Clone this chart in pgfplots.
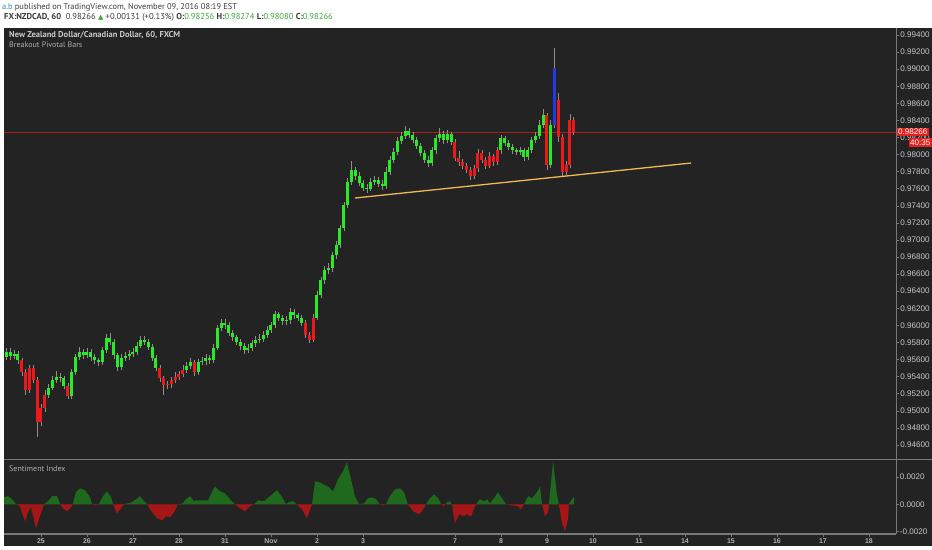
\documentclass[border=0pt]{standalone}
\usepackage{fontspec}
\setmainfont{PT Sans}
\newfontfamily\lib{Liberation Sans}
\newfontfamily\sym{DejaVu Sans}
\usepackage{pgfplots}
\pgfplotsset{compat=1.18}
\usepackage{pgfplotstable}

\definecolor{bg}{RGB}{35,35,35}
\definecolor{cg}{RGB}{40,235,40}
\definecolor{cr}{RGB}{235,25,25}
\definecolor{cb}{RGB}{30,60,230}
\definecolor{wick}{RGB}{150,140,130}
\definecolor{sg}{RGB}{30,105,30}
\definecolor{sr}{RGB}{165,22,22}
\definecolor{trend}{RGB}{238,185,80}
\definecolor{lastp}{RGB}{170,30,30}
\definecolor{lastbox}{RGB}{230,30,30}
\definecolor{lbl}{RGB}{200,200,200}
\definecolor{lbl2}{RGB}{175,175,175}
\definecolor{hdr}{RGB}{60,60,60}
\definecolor{upg}{RGB}{60,170,60}
\definecolor{ablue}{RGB}{50,130,210}
\definecolor{frame}{RGB}{120,120,120}

% 2-hour candles: k = bar index, o h l c, g: 1 green, 0 red, 2 blue
\pgfplotstableread{
k o h l c g
0 0.9560 0.9568 0.9556 0.9563 1
1 0.9563 0.9573 0.9560 0.9569 1
2 0.9569 0.9574 0.9560 0.9564 1
3 0.9564 0.9571 0.9561 0.9567 1
4 0.9567 0.9570 0.9555 0.9559 1
5 0.9559 0.9562 0.9541 0.9545 0
6 0.9545 0.9549 0.9519 0.9524 0
7 0.9524 0.9554 0.9521 0.9550 0
8 0.9550 0.9554 0.9532 0.9536 0
9 0.9536 0.9540 0.9469 0.9487 0
10 0.9487 0.9508 0.9482 0.9503 0
11 0.9503 0.9524 0.9499 0.9519 0
12 0.9519 0.9531 0.9515 0.9527 1
13 0.9527 0.9541 0.9524 0.9536 1
14 0.9536 0.9546 0.9532 0.9540 1
15 0.9540 0.9544 0.9534 0.9538 1
16 0.9538 0.9541 0.9525 0.9529 1
17 0.9529 0.9532 0.9514 0.9517 0
18 0.9517 0.9549 0.9514 0.9545 1
19 0.9545 0.9567 0.9542 0.9563 1
20 0.9563 0.9575 0.9560 0.9569 1
21 0.9569 0.9572 0.9561 0.9565 1
22 0.9565 0.9574 0.9562 0.9569 1
23 0.9569 0.9572 0.9558 0.9563 1
24 0.9563 0.9566 0.9555 0.9559 1
25 0.9559 0.9562 0.9552 0.9557 1
26 0.9557 0.9575 0.9554 0.9571 1
27 0.9571 0.9590 0.9568 0.9585 1
28 0.9585 0.9591 0.9577 0.9581 1
29 0.9581 0.9584 0.9561 0.9565 1
30 0.9565 0.9568 0.9547 0.9551 1
31 0.9551 0.9566 0.9548 0.9562 1
32 0.9562 0.9569 0.9558 0.9564 1
33 0.9564 0.9571 0.9560 0.9567 1
34 0.9567 0.9574 0.9563 0.9569 1
35 0.9569 0.9580 0.9565 0.9576 1
36 0.9576 0.9588 0.9573 0.9583 1
37 0.9583 0.9587 0.9577 0.9581 1
38 0.9581 0.9584 0.9571 0.9575 1
39 0.9575 0.9578 0.9558 0.9562 1
40 0.9562 0.9565 0.9546 0.9550 1
41 0.9550 0.9553 0.9534 0.9538 0
42 0.9538 0.9541 0.9518 0.9530 0
43 0.9530 0.9535 0.9525 0.9531 0
44 0.9531 0.9540 0.9527 0.9536 0
45 0.9536 0.9545 0.9532 0.9540 0
46 0.9540 0.9547 0.9536 0.9543 0
47 0.9543 0.9553 0.9540 0.9548 0
48 0.9548 0.9557 0.9544 0.9552 1
49 0.9552 0.9562 0.9549 0.9557 1
50 0.9557 0.9560 0.9541 0.9545 0
51 0.9545 0.9561 0.9542 0.9557 1
52 0.9557 0.9563 0.9553 0.9558 1
53 0.9558 0.9566 0.9554 0.9562 1
54 0.9562 0.9565 0.9555 0.9559 1
55 0.9559 0.9578 0.9556 0.9574 1
56 0.9574 0.9601 0.9571 0.9597 1
57 0.9597 0.9608 0.9593 0.9603 1
58 0.9603 0.9607 0.9596 0.9600 1
59 0.9600 0.9604 0.9587 0.9591 1
60 0.9591 0.9594 0.9582 0.9586 1
61 0.9586 0.9589 0.9577 0.9581 1
62 0.9581 0.9584 0.9571 0.9576 1
63 0.9576 0.9579 0.9567 0.9571 1
64 0.9571 0.9578 0.9568 0.9574 1
65 0.9574 0.9583 0.9570 0.9579 1
66 0.9579 0.9587 0.9575 0.9583 1
67 0.9583 0.9590 0.9579 0.9584 1
68 0.9584 0.9593 0.9580 0.9589 1
69 0.9589 0.9599 0.9585 0.9595 1
70 0.9595 0.9604 0.9591 0.9600 1
71 0.9600 0.9617 0.9597 0.9613 1
72 0.9613 0.9616 0.9605 0.9609 1
73 0.9609 0.9612 0.9601 0.9605 1
74 0.9605 0.9611 0.9600 0.9606 1
75 0.9606 0.9620 0.9602 0.9616 1
76 0.9616 0.9619 0.9608 0.9612 1
77 0.9612 0.9615 0.9605 0.9609 1
78 0.9609 0.9612 0.9599 0.9603 1
79 0.9603 0.9606 0.9585 0.9589 0
80 0.9589 0.9592 0.9579 0.9583 0
81 0.9583 0.9613 0.9580 0.9609 0
82 0.9609 0.9640 0.9606 0.9636 1
83 0.9636 0.9657 0.9632 0.9653 1
84 0.9653 0.9670 0.9649 0.9665 1
85 0.9665 0.9673 0.9660 0.9667 1
86 0.9667 0.9686 0.9663 0.9682 1
87 0.9682 0.9699 0.9678 0.9694 1
88 0.9694 0.9718 0.9690 0.9714 1
89 0.9714 0.9745 0.9710 0.9741 1
90 0.9741 0.9773 0.9737 0.9768 1
91 0.9768 0.9792 0.9764 0.9782 1
92 0.9782 0.9786 0.9770 0.9775 1
93 0.9775 0.9779 0.9763 0.9767 1
94 0.9767 0.9770 0.9757 0.9761 1
95 0.9761 0.9765 0.9755 0.9760 1
96 0.9760 0.9772 0.9757 0.9768 1
97 0.9768 0.9775 0.9764 0.9770 1
98 0.9770 0.9774 0.9762 0.9766 1
99 0.9766 0.9770 0.9758 0.9763 1
100 0.9763 0.9785 0.9760 0.9780 1
101 0.9780 0.9798 0.9776 0.9794 1
102 0.9794 0.9808 0.9790 0.9803 1
103 0.9803 0.9821 0.9799 0.9816 1
104 0.9816 0.9827 0.9812 0.9822 1
105 0.9822 0.9834 0.9818 0.9828 1
106 0.9828 0.9831 0.9819 0.9823 1
107 0.9823 0.9826 0.9813 0.9817 1
108 0.9817 0.9820 0.9806 0.9810 1
109 0.9810 0.9813 0.9798 0.9802 1
110 0.9802 0.9805 0.9790 0.9794 1
111 0.9794 0.9798 0.9786 0.9790 1
112 0.9790 0.9809 0.9787 0.9805 1
113 0.9805 0.9823 0.9801 0.9819 1
114 0.9819 0.9831 0.9815 0.9824 1
115 0.9824 0.9828 0.9812 0.9817 1
116 0.9817 0.9829 0.9813 0.9824 1
117 0.9824 0.9827 0.9811 0.9815 1
118 0.9815 0.9818 0.9792 0.9796 0
119 0.9796 0.9804 0.9787 0.9791 0
120 0.9791 0.9795 0.9783 0.9787 0
121 0.9787 0.9790 0.9778 0.9782 0
122 0.9782 0.9786 0.9770 0.9775 0
123 0.9775 0.9788 0.9771 0.9784 0
124 0.9784 0.9806 0.9780 0.9802 0
125 0.9802 0.9805 0.9790 0.9794 0
126 0.9794 0.9797 0.9783 0.9787 0
127 0.9787 0.9803 0.9784 0.9798 0
128 0.9798 0.9801 0.9787 0.9791 0
129 0.9791 0.9809 0.9788 0.9805 0
130 0.9805 0.9823 0.9801 0.9819 1
131 0.9819 0.9822 0.9810 0.9814 1
132 0.9814 0.9817 0.9805 0.9809 1
133 0.9809 0.9812 0.9801 0.9805 1
134 0.9805 0.9808 0.9799 0.9803 1
135 0.9803 0.9809 0.9799 0.9805 1
136 0.9805 0.9808 0.9793 0.9797 1
137 0.9797 0.9809 0.9794 0.9805 1
138 0.9805 0.9821 0.9802 0.9817 1
139 0.9817 0.9827 0.9813 0.9822 1
140 0.9822 0.9840 0.9818 0.9835 1
141 0.9835 0.9853 0.9831 0.9846 1
142 0.9846 0.9849 0.9782 0.9788 0
143 0.9788 0.9840 0.9784 0.9835 1
144 0.9835 0.9925 0.9831 0.9901 2
145 0.9864 0.9872 0.9815 0.9821 0
146 0.9821 0.9824 0.9774 0.9780 0
147 0.9780 0.9792 0.9776 0.9788 0
148 0.9788 0.9848 0.9784 0.9841 0
149 0.9841 0.9844 0.9823 0.9827 0
}\candles

\pgfplotstableread{
k v
0.35 0.00051
1.39 0.00059
2.4 0.00037
3.48 0
4.5 -0.00015
5.83 -0.00125
6.6 -0.00059
7.4 -0.00022
8.7 -0.00176
9.7 -0.00088
10.8 0
11.8 0.00022
12.9 0.00059
14.2 0.00059
15.0 0
15.7 -0.00029
16.8 -0.00051
17.8 -0.00022
18.3 0
19.1 0.00088
20.2 0.00117
21.5 0.00103
22.8 0.00051
23.3 0
24.3 -0.00007
25.1 0
26.2 0.00059
27.2 0.00095
28.3 0.00051
28.8 0
29.8 -0.00066
30.9 -0.00029
31.7 0
32.7 0.00007
33.7 0.00015
34.8 0.00037
35.8 0.00059
36.9 0.00022
37.7 0
39.0 -0.00059
40.3 -0.00103
41.6 -0.00117
42.6 -0.00088
43.7 -0.00095
45.0 -0.00044
45.7 0
47.0 0.00007
47.8 0.00037
48.9 0.00059
49.9 0.00022
50.7 0.00029
52.3 0.00029
53.6 0.00029
54.6 0.00088
55.4 0.00132
56.7 0.00095
58.0 0.00081
59.3 0.00037
60.6 0
61.9 -0.00029
63.2 -0.00051
64.5 -0.00015
65.6 0
66.6 0.00029
68.2 0.00022
69.7 0.00059
71.6 0.00103
73.1 0.00044
73.9 0
74.7 0.00015
75.7 0.00022
76.8 0
78.1 -0.00037
79.4 -0.00103
80.4 -0.00022
80.7 0
81.5 0.00168
82.8 0.00161
84.1 0.00139
85.1 0.00125
86.2 0.00095
87.5 0.00183
88.8 0.00242
89.8 0.00308
90.9 0.00183
91.9 0.00059
93.0 0
94.3 0.00007
95.3 0.00044
96.4 0.00051
97.4 0.00037
98.4 0
99.2 -0.00007
100.0 0
101.0 0.00059
102.4 0.00110
103.7 0.00117
104.7 0.00088
105.7 0
107.1 -0.00051
108.6 -0.00073
109.7 -0.00037
110.4 0
111.5 0.00044
112.5 0.00073
113.6 0.00044
114.4 0
115.1 -0.00015
115.5 0
115.9 0.00015
116.7 0.00022
117.2 0
118.0 -0.00139
119.1 -0.00073
120.1 -0.00088
121.1 -0.00073
122.2 -0.00088
123.0 -0.00029
123.5 0
124.5 0.00037
125.6 0.00022
126.4 0.00037
127.1 0.00007
128.2 0.00044
129.2 0.00088
130.3 0.00044
131.3 0
132.9 -0.00007
134.4 -0.00015
135.2 -0.00037
136.0 0
137.1 0.00059
138.1 0.00044
139.4 0.00088
140.2 0.00132
140.7 0
141.5 -0.00088
142.3 -0.00059
142.5 0
143.6 0.00315
144.6 0.00073
145.1 0
145.9 -0.00132
146.7 -0.00198
147.5 -0.00110
147.7 0
148.5 0.00037
149.1 0.00051
}\senti

\begin{document}
\begin{tikzpicture}
\useasboundingbox (0,0) rectangle (932bp,-550bp);
\fill[white] (0,0) rectangle (932bp,-550bp);
\fill[bg] (3.5bp,-27.5bp) rectangle (932bp,-546bp);

% header
\node[anchor=base west, inner sep=0, text=hdr] at (2bp,-9.5bp)
  {\fontsize{8.4bp}{10bp}\selectfont\textcolor{ablue}{a.b} published on TradingView.com, November 09, 2016 08:19 EST};
\node[anchor=base west, inner sep=0, text=hdr] at (4bp,-19.8bp)
  {\fontsize{8.6bp}{10bp}\selectfont\textbf{FX:NZDCAD, 60}\ \ 0.98266 {\sym\fontsize{7bp}{8bp}\selectfont\textcolor{upg}{▲}} +0.00131 (+0.13\%) \textbf{O:}\textcolor{upg}{0.98256} \textbf{H:}\textcolor{upg}{0.98274} \textbf{L:}\textcolor{upg}{0.98080} \textbf{C:}\textcolor{upg}{0.98266}};
\node[anchor=base west, inner sep=0, text=lbl] at (9bp,-37.7bp)
  {\fontsize{8.5bp}{10bp}\selectfont\textbf{New Zealand Dollar/Canadian Dollar, 60, FXCM}};
\node[anchor=base west, inner sep=0, text=lbl2] at (9bp,-47.3bp)
  {\fontsize{8bp}{10bp}\selectfont Breakout Pivotal Bars};
\node[anchor=base west, inner sep=0, text=lbl2] at (9bp,-471.7bp)
  {\fontsize{8bp}{10bp}\selectfont Sentiment Index};

\begin{axis}[
  at={(4bp,-28bp)}, anchor=north west, scale only axis,
  width=892bp, height=431bp,
  xmin=0.35, xmax=233.06, ymin=0.94435, ymax=0.99482,
  axis line style={draw=none},
  xtick=\empty,
  ytick={0.946,0.948,0.950,0.952,0.954,0.956,0.958,0.960,0.962,0.964,0.966,0.968,0.970,0.972,0.974,0.976,0.978,0.980,0.982,0.984,0.986,0.988,0.990,0.992,0.994},
  ytick pos=right, yticklabel pos=right,
  tick align=outside, major tick length=3bp,
  ytick style={color=frame, line width=0.5bp},
  scaled y ticks=false,
  yticklabel style={font=\lib\fontsize{8.1bp}{9bp}\selectfont, text=lbl, inner xsep=1.2bp,
    /pgf/number format/.cd, fixed, fixed zerofill, precision=5, assume math mode=true},
  candle/.style={draw=none, fill=none, mark=none, forget plot},
]
\addplot[lastp, line width=0.6bp, forget plot] coordinates {(-5,0.98266) (240,0.98266)};
% wicks
\addplot[candle, error bars/.cd, y dir=plus, y explicit, error mark=none,
  error bar style={draw=wick, line width=0.6bp}]
  table[x=k, y=l, y error plus expr=\thisrow{h}-\thisrow{l}] {\candles};
% bodies
\addplot[candle, restrict expr to domain={\thisrow{g}}{1:1},
  error bars/.cd, y dir=plus, y explicit, error mark=none,
  error bar style={draw=cg, line width=3bp}]
  table[x=k, y expr={min(\thisrow{o},\thisrow{c})}, y error plus expr={max(abs(\thisrow{c}-\thisrow{o}),0.00008)}] {\candles};
\addplot[candle, restrict expr to domain={\thisrow{g}}{0:0},
  error bars/.cd, y dir=plus, y explicit, error mark=none,
  error bar style={draw=cr, line width=3bp}]
  table[x=k, y expr={min(\thisrow{o},\thisrow{c})}, y error plus expr={max(abs(\thisrow{c}-\thisrow{o}),0.00008)}] {\candles};
\addplot[candle, restrict expr to domain={\thisrow{g}}{2:2},
  error bars/.cd, y dir=plus, y explicit, error mark=none,
  error bar style={draw=cb, line width=3bp}]
  table[x=k, y expr={min(\thisrow{o},\thisrow{c})}, y error plus expr={max(abs(\thisrow{c}-\thisrow{o}),0.00008)}] {\candles};
% trend line
\addplot[trend, line width=1.3bp] coordinates {(91.9,0.97491) (179.6,0.97901)};
\end{axis}

\begin{axis}[
  at={(4bp,-461bp)}, anchor=north west, scale only axis,
  width=892bp, height=73bp,
  xmin=0.35, xmax=233.06, ymin=-0.002176, ymax=0.00317,
  axis line style={draw=none},
  xtick={10,22,34,46,58,70,82,94,118,130,142,154,166,178,190,202,214,226},
  xticklabels={25,26,27,28,31,Nov,2,3,7,8,9,10,11,14,15,16,17,18},
  xtick pos=bottom,
  ytick={-0.002,0,0.002},
  ytick pos=right, yticklabel pos=right,
  tick align=outside, major tick length=2.5bp,
  tick style={color=frame, line width=0.5bp},
  scaled y ticks=false,
  yticklabel style={font=\lib\fontsize{8.1bp}{9bp}\selectfont, text=lbl, inner xsep=1.2bp,
    /pgf/number format/.cd, fixed, fixed zerofill, precision=4, assume math mode=true},
  xticklabel style={font=\lib\bfseries\fontsize{7bp}{8bp}\selectfont, text=lbl2, inner ysep=1.5bp},
]
\addplot[fill=sg, draw=none] table[x=k, y expr={max(\thisrow{v},0)}] {\senti} \closedcycle;
\addplot[fill=sr, draw=none] table[x=k, y expr={min(\thisrow{v},0)}] {\senti} \closedcycle;
\end{axis}

% frame lines
\draw[frame, line width=0.8bp] (896bp,-27.5bp) -- (896bp,-534bp);
\draw[frame, line width=1.4bp] (3.5bp,-459.5bp) -- (932bp,-459.5bp);
\draw[frame, line width=1.2bp] (3.5bp,-534bp) -- (896.4bp,-534bp);

% last price boxes
\node[fill=lastbox, text=white, anchor=west, inner xsep=1.5bp, inner ysep=1.6bp,
  font=\lib\fontsize{8.1bp}{9bp}\selectfont] at (896.5bp,-132bp) {0.98266};
\node[fill=lastbox, text=white, anchor=north east, inner xsep=1.5bp, inner ysep=1.4bp,
  font=\lib\fontsize{8.1bp}{9bp}\selectfont] at (932bp,-138.2bp) {40:35};
\end{tikzpicture}
\end{document}
